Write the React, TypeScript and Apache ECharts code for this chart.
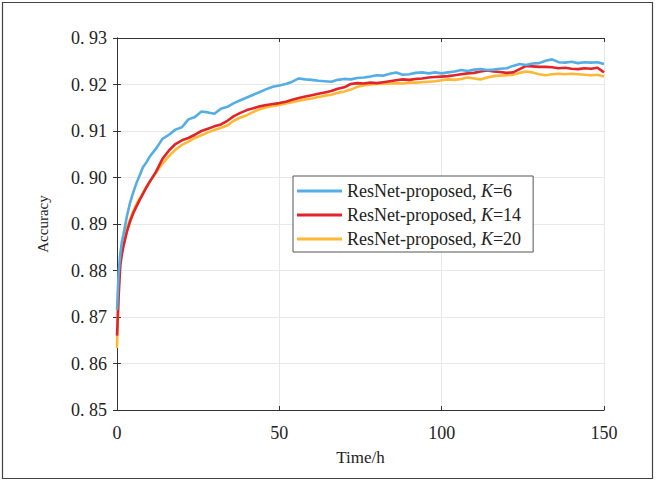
import React, { useEffect, useRef } from "react";
import * as echarts from "echarts";

const hours = [0, 0.5, 1, 1.5, 2, 3, 4, 5, 6, 7, 8, 9, 10,
  12, 14, 16, 18, 20, 22, 24, 26, 28, 30, 32, 34, 36, 38, 40, 42, 44, 46, 48, 50,
  52, 54, 56, 58, 60, 62, 64, 66, 68, 70, 72, 74, 76, 78, 80, 82, 84, 86, 88, 90,
  92, 94, 96, 98, 100, 102, 104, 106, 108, 110, 112, 114, 116, 118, 120, 122, 124,
  126, 128, 130, 132, 134, 136, 138, 140, 142, 144, 146, 148, 150];

const accK6 = [0.8715, 0.8795, 0.8835, 0.8862, 0.8878, 0.8915, 0.8945, 0.8968, 0.8988, 0.9005, 0.9022, 0.9032, 0.9044,
  0.9062, 0.9083, 0.9092, 0.9103, 0.9108, 0.9125, 0.9130, 0.9142, 0.9140, 0.9137, 0.9148, 0.9152, 0.9160, 0.9166, 0.9172, 0.9178, 0.9184, 0.9190, 0.9195, 0.9198,
  0.9201, 0.9206, 0.9213, 0.9211, 0.9210, 0.9208, 0.9207, 0.9206, 0.9210, 0.9212, 0.9211, 0.9214, 0.9215, 0.9217, 0.9220, 0.9219, 0.9223, 0.9226, 0.9221, 0.9222,
  0.9225, 0.9226, 0.9224, 0.9226, 0.9224, 0.9226, 0.9228, 0.9231, 0.9229, 0.9232, 0.9233, 0.9231, 0.9232, 0.9234, 0.9235, 0.9240, 0.9244,
  0.9242, 0.9245, 0.9246, 0.9251, 0.9254, 0.9248, 0.9247, 0.9249, 0.9246, 0.9248, 0.9247, 0.9248, 0.9244];

const accK14 = [0.8660, 0.8745, 0.8810, 0.8835, 0.8852, 0.8882, 0.8905, 0.8923, 0.8938, 0.8952, 0.8965, 0.8978, 0.8990,
  0.9012, 0.9040, 0.9058, 0.9072, 0.9080, 0.9085, 0.9092, 0.9100, 0.9105, 0.9110, 0.9114, 0.9122, 0.9132, 0.9139, 0.9145, 0.9149, 0.9153, 0.9156, 0.9158, 0.9160,
  0.9163, 0.9167, 0.9171, 0.9174, 0.9177, 0.9180, 0.9183, 0.9186, 0.9191, 0.9194, 0.9201, 0.9203, 0.9202, 0.9204, 0.9203, 0.9205, 0.9207, 0.9209, 0.9211, 0.9210,
  0.9212, 0.9213, 0.9215, 0.9216, 0.9217, 0.9218, 0.9220, 0.9222, 0.9224, 0.9225, 0.9228, 0.9230, 0.9228, 0.9227, 0.9225, 0.9226, 0.9233,
  0.9240, 0.9239, 0.9238, 0.9238, 0.9237, 0.9235, 0.9236, 0.9234, 0.9233, 0.9235, 0.9234, 0.9236, 0.9226];

const accK20 = [0.8633, 0.8760, 0.8820, 0.8850, 0.8865, 0.8890, 0.8910, 0.8928, 0.8943, 0.8955, 0.8967, 0.8979, 0.8990,
  0.9010, 0.9030, 0.9046, 0.9060, 0.9070, 0.9077, 0.9085, 0.9091, 0.9097, 0.9102, 0.9107, 0.9112, 0.9122, 0.9129, 0.9134, 0.9141, 0.9147, 0.9151, 0.9154, 0.9156,
  0.9159, 0.9162, 0.9165, 0.9168, 0.9170, 0.9173, 0.9176, 0.9178, 0.9182, 0.9185, 0.9189, 0.9195, 0.9198, 0.9200, 0.9201, 0.9201, 0.9202, 0.9203, 0.9202, 0.9204,
  0.9204, 0.9205, 0.9206, 0.9207, 0.9209, 0.9211, 0.9210, 0.9212, 0.9215, 0.9213, 0.9211, 0.9215, 0.9218, 0.9219, 0.9220, 0.9221, 0.9225,
  0.9228, 0.9226, 0.9222, 0.9220, 0.9222, 0.9223, 0.9222, 0.9223, 0.9222, 0.9221, 0.9220, 0.9221, 0.9217];

const seriesNames = ["K=6", "K=14", "K=20"];
const seriesValues = [accK6, accK14, accK20];
const seriesColors = ["#55aee3", "#e0242a", "#fdb836"];

const FONT = "Liberation Serif";

export default function App() {
  const ref = useRef<HTMLDivElement>(null);
  useEffect(() => {
    if (!ref.current) return;
    const chart = echarts.init(ref.current, undefined, { renderer: "svg" });
    const axisLine = { show: true, lineStyle: { color: "#333", width: 1 } };
    const tick = { show: true, inside: true, length: 4, lineStyle: { color: "#333" } };
    chart.setOption({
      animation: false,
      backgroundColor: "#fff",
      textStyle: { fontFamily: FONT },
      grid: { left: 117, right: 52, top: 38, bottom: 71, containLabel: false },
      graphic: [
        {
          type: "rect",
          shape: { x: 2.5, y: 2.5, width: 650, height: 476 },
          style: { fill: "none", stroke: "#444", lineWidth: 1.2 },
          silent: true,
        },
      ],
      legend: {
        orient: "vertical",
        left: 293,
        top: 176,
        backgroundColor: "#fff",
        borderColor: "#555",
        borderWidth: 1,
        borderRadius: 0,
        padding: [6, 12, 4, 4],
        icon: "rect",
        itemWidth: 45,
        itemHeight: 3,
        itemGap: 6,
        textStyle: {
          fontFamily: FONT,
          fontSize: 18,
          color: "#222",
          lineHeight: 18,
          rich: {
            i: { fontStyle: "italic", fontFamily: FONT, fontSize: 18, color: "#222" },
            n: { fontFamily: FONT, fontSize: 18, color: "#222" },
          },
        },
        formatter: (name: string) => {
          const parts = name.split("=");
          return "{n|ResNet-proposed, }{i|K}{n|=" + parts[1] + "}";
        },
        data: seriesNames,
      },
      xAxis: [
        {
          type: "value",
          min: 0,
          max: 150,
          interval: 50,
          name: "Time/h",
          nameLocation: "middle",
          nameGap: 39,
          nameTextStyle: { fontFamily: FONT, fontSize: 17, fontWeight: "normal", color: "#222" },
          axisLine,
          axisTick: tick,
          axisLabel: { fontFamily: FONT, fontSize: 18, color: "#222", margin: 14 },
          splitLine: { show: true, lineStyle: { color: "#e8e8e8", width: 1 } },
        },
        {
          type: "value",
          position: "top",
          min: 0,
          max: 150,
          interval: 50,
          axisLine,
          axisTick: tick,
          axisLabel: { show: false },
          splitLine: { show: false },
        },
      ],
      yAxis: [
        {
          type: "value",
          min: 0.85,
          max: 0.93,
          interval: 0.01,
          name: "Accuracy",
          nameLocation: "middle",
          nameGap: 67,
          nameTextStyle: { fontFamily: FONT, fontSize: 15, fontWeight: "normal", color: "#222" },
          axisLine,
          axisTick: tick,
          axisLabel: {
            fontFamily: FONT,
            fontSize: 18,
            color: "#222",
            margin: 10,
            formatter: (v: number) => v.toFixed(2).replace(".", ". "),
          },
          splitLine: { show: true, lineStyle: { color: "#e8e8e8", width: 1 } },
        },
        {
          type: "value",
          position: "right",
          min: 0.85,
          max: 0.93,
          interval: 0.01,
          axisLine,
          axisTick: tick,
          axisLabel: { show: false },
          splitLine: { show: false },
        },
      ],
      series: seriesNames.map((name, i) => ({
        name,
        type: "line",
        xAxisIndex: 0,
        yAxisIndex: 0,
        symbol: "none",
        showSymbol: false,
        smooth: false,
        z: 3 - i,
        lineStyle: { color: seriesColors[i], width: 2.6 },
        itemStyle: { color: seriesColors[i] },
        data: hours.map((h, j) => [h, seriesValues[i][j]]),
      })),
    });
    return () => chart.dispose();
  }, []);
  return (
    <div
      ref={ref}
      style={{ position: "absolute", left: 0, top: 0, width: 656, height: 481 }}
    />
  );
}
